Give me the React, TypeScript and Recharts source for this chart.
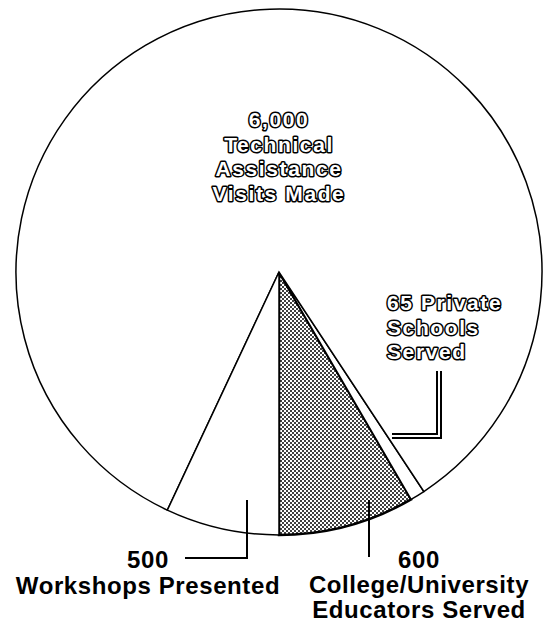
import React from 'react'
import { PieChart, Pie, Cell } from 'recharts'

// categories in drawing order (counter-clockwise from straight down)
const categories = ['College/University Educators Served', 'Private Schools Served', 'Technical Assistance Visits Made', 'Workshops Presented']
const counts = [600, 65, 6000, 500]
const countLabels = ['600', '65', '6,000', '500']

const data = categories.map((name, i) => ({ name, value: counts[i] }))

const FONT = '"Liberation Sans", Arial, Helvetica, sans-serif'
const CX = 279
const CY = 272

// text lines per slice (built from the labels above)
const labelLines: Record<string, string[]> = {
  'Technical Assistance Visits Made': [countLabels[2], 'Technical', 'Assistance', 'Visits Made'],
  'Private Schools Served': [`${countLabels[1]} Private`, 'Schools', 'Served'],
  'Workshops Presented': [countLabels[3], 'Workshops Presented'],
  'College/University Educators Served': [countLabels[0], 'College/University', 'Educators Served'],
}

function OutlineText({ x, y, anchor, children }: any) {
  return (
    <text
      x={x}
      y={y}
      textAnchor={anchor}
      fontFamily={FONT}
      fontWeight="bold"
      fontSize={21}
      fill="#fff"
      stroke="#000"
      strokeWidth={3}
      paintOrder="stroke"
      strokeLinejoin="round"
      letterSpacing={1.6}
    >
      {children}
    </text>
  )
}

function PlainText({ x, y, children }: any) {
  return (
    <text
      x={x}
      y={y}
      textAnchor="middle"
      fontFamily={FONT}
      fontWeight="bold"
      fontSize={24}
      fill="#000"
      letterSpacing={0.6}
    >
      {children}
    </text>
  )
}

function renderLabel(props: any) {
  const { cx, cy, name } = props
  const lines = labelLines[name]
  if (name === 'Technical Assistance Visits Made') {
    return (
      <g key={name}>
        {lines.map((t, i) => (
          <OutlineText key={t} x={cx} y={cy - 145 + i * 24.5} anchor="middle">
            {t}
          </OutlineText>
        ))}
      </g>
    )
  }
  if (name === 'Private Schools Served') {
    const pts = `${cx + 160},${cy + 99} ${cx + 160},${cy + 164} ${cx + 113},${cy + 164}`
    return (
      <g key={name}>
        {lines.map((t, i) => (
          <OutlineText key={t} x={cx + 108} y={cy + 38 + i * 24.5} anchor="start">
            {t}
          </OutlineText>
        ))}
        <polyline points={pts} fill="none" stroke="#000" strokeWidth={6} />
        <polyline points={pts} fill="none" stroke="#fff" strokeWidth={2} />
      </g>
    )
  }
  if (name === 'Workshops Presented') {
    return (
      <g key={name}>
        <polyline
          points={`${cx - 94},${cy + 286} ${cx - 32},${cy + 286} ${cx - 32},${cy + 228}`}
          fill="none"
          stroke="#000"
          strokeWidth={2}
        />
        {lines.map((t, i) => (
          <PlainText key={t} x={cx - 131} y={cy + 296 + i * 26}>
            {t}
          </PlainText>
        ))}
      </g>
    )
  }
  return (
    <g key={name}>
      <line x1={cx + 90} y1={cy + 228} x2={cx + 90} y2={cy + 285} stroke="#000" strokeWidth={2} />
      {lines.map((t, i) => (
        <PlainText key={t} x={cx + 140} y={cy + 296 + i * 25}>
          {t}
        </PlainText>
      ))}
    </g>
  )
}

export default function App() {
  return (
    <div style={{ position: 'absolute', left: 0, top: 0, background: '#fff' }}>
      <PieChart width={547} height={623} margin={{ top: 0, right: 0, bottom: 0, left: 0 }}>
        <defs>
          <pattern id="dots" width={4} height={4} patternUnits="userSpaceOnUse">
            <rect width={4} height={4} fill="#fff" />
            <circle cx={1} cy={1} r={1} fill="#000" />
            <circle cx={3} cy={3} r={1} fill="#000" />
          </pattern>
        </defs>
        <Pie
          data={data}
          dataKey="value"
          nameKey="name"
          cx={CX}
          cy={CY}
          innerRadius={0}
          outerRadius={263}
          startAngle={-90}
          endAngle={270}
          stroke="#000"
          strokeWidth={1.5}
          label={renderLabel}
          labelLine={false}
          isAnimationActive={false}
        >
          {data.map((d, i) => (
            <Cell key={d.name} fill={i === 0 ? 'url(#dots)' : '#fff'} strokeWidth={i === 0 ? 2.5 : 1.5} />
          ))}
        </Pie>
      </PieChart>
    </div>
  )
}
